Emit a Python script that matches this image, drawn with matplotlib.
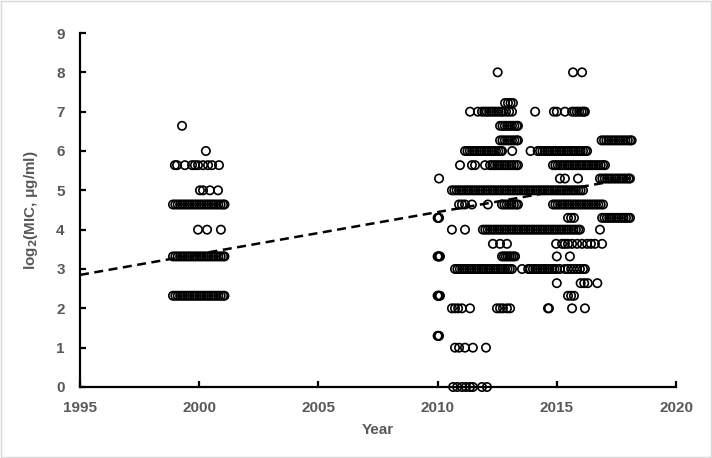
import matplotlib
matplotlib.use('Agg')
import matplotlib.pyplot as plt
from matplotlib.patches import Rectangle

# MIC values, one list of sample years per log2(MIC) level
yr_0 = [2010.65, 2010.82, 2011.02, 2011.19, 2011.36, 2011.48, 2011.86, 2012.07]
yr_1 = [2010.73, 2010.9, 2011.15, 2011.48, 2012.03]
yr_1_3 = [2010.0, 2010.03, 2010.06]
yr_2 = [2010.6, 2010.73, 2010.86, 2011.02, 2011.36, 2012.49, 2012.62, 2012.74,
        2012.91, 2013.04, 2014.63, 2014.67, 2015.64, 2016.18]
yr_2_32 = [1998.9, 1999.0, 1999.1, 1999.2, 1999.3, 1999.4, 1999.5, 1999.6, 1999.7,
           1999.8, 1999.9, 2000.0, 2000.1, 2000.2, 2000.3, 2000.4, 2000.5, 2000.6,
           2000.7, 2000.8, 2000.9, 2001.0, 2001.06,
           2010.0, 2010.03, 2010.06, 2010.1, 2015.47, 2015.6, 2015.72]
yr_2_64 = [2015.0, 2016.0, 2016.15, 2016.3, 2016.7]
yr_3 = [2010.73, 2010.83, 2010.93, 2011.03, 2011.13, 2011.23, 2011.33, 2011.43,
        2011.53, 2011.63, 2011.73, 2011.83, 2011.93, 2012.03, 2012.13, 2012.23,
        2012.33, 2012.43, 2012.53, 2012.63, 2012.73, 2012.83, 2012.93, 2013.03,
        2013.12, 2013.54, 2013.8, 2013.9, 2014.0, 2014.1, 2014.2, 2014.3, 2014.4,
        2014.5, 2014.6, 2014.7, 2014.8, 2014.9, 2015.0, 2015.13, 2015.34, 2015.47,
        2015.6, 2015.72, 2015.85, 2015.97, 2016.1, 2016.18]
yr_3_32 = [1998.9, 1999.0, 1999.1, 1999.2, 1999.3, 1999.4, 1999.5, 1999.6, 1999.7,
           1999.8, 1999.9, 2000.0, 2000.1, 2000.2, 2000.3, 2000.4, 2000.5, 2000.6,
           2000.7, 2000.8, 2000.9, 2001.0, 2001.06,
           2010.0, 2010.03, 2010.06, 2010.1, 2012.7, 2012.78, 2012.86, 2012.94,
           2013.02, 2013.1, 2013.18, 2013.25, 2015.0, 2015.55]
yr_3_64 = [2012.32, 2012.62, 2012.91, 2014.97, 2015.22, 2015.34, 2015.47, 2015.64,
           2015.85, 2016.06, 2016.27, 2016.43, 2016.6, 2016.9]
yr_4 = [1999.95, 2000.33, 2000.91, 2010.6, 2011.15,
        2011.9, 2012.0, 2012.1, 2012.2, 2012.3, 2012.4, 2012.5, 2012.6, 2012.7,
        2012.8, 2012.9, 2013.0, 2013.1, 2013.2, 2013.3, 2013.4, 2013.5, 2013.6,
        2013.7, 2013.8, 2013.9, 2014.0, 2014.1, 2014.2, 2014.3, 2014.4, 2014.5,
        2014.6, 2014.7, 2014.8, 2014.9, 2015.0, 2015.1, 2015.2, 2015.3, 2015.4,
        2015.5, 2015.6, 2015.7, 2015.8, 2015.9, 2015.97, 2016.81]
yr_4_3 = [2010.0, 2010.03, 2010.06, 2015.47, 2015.6, 2015.72, 2016.9, 2017.0,
          2017.1, 2017.2, 2017.3, 2017.4, 2017.5, 2017.6, 2017.7, 2017.8, 2017.9,
          2018.0, 2018.07]
yr_4_64 = [1998.9, 1999.0, 1999.1, 1999.2, 1999.3, 1999.4, 1999.5, 1999.6, 1999.7,
           1999.8, 1999.9, 2000.0, 2000.1, 2000.2, 2000.3, 2000.4, 2000.5, 2000.6,
           2000.7, 2000.8, 2000.9, 2001.0, 2001.06,
           2010.9, 2011.02, 2011.15, 2011.44, 2012.11, 2012.7, 2012.8, 2012.9,
           2013.0, 2013.1, 2013.2, 2013.3, 2013.37, 2014.84, 2014.94, 2015.04,
           2015.14, 2015.24, 2015.34, 2015.44, 2015.54, 2015.64, 2015.74, 2015.84,
           2015.94, 2016.04, 2016.14, 2016.24, 2016.34, 2016.44, 2016.54, 2016.64,
           2016.74, 2016.84, 2016.94]
yr_5 = [2000.03, 2000.16, 2000.45, 2000.79,
        2010.6, 2010.7, 2010.8, 2010.9, 2011.0, 2011.1, 2011.2, 2011.3, 2011.4,
        2011.5, 2011.6, 2011.7, 2011.8, 2011.9, 2012.0, 2012.1, 2012.2, 2012.3,
        2012.4, 2012.5, 2012.6, 2012.7, 2012.8, 2012.9, 2013.0, 2013.1, 2013.2,
        2013.3, 2013.4, 2013.5, 2013.6, 2013.7, 2013.8, 2013.9, 2014.0, 2014.1,
        2014.2, 2014.3, 2014.4, 2014.5, 2014.6, 2014.7, 2014.8, 2014.9, 2015.0,
        2015.1, 2015.2, 2015.3, 2015.4, 2015.5, 2015.6, 2015.7, 2015.8, 2015.9,
        2016.0, 2016.1]
yr_5_3 = [2010.06, 2015.13, 2015.34, 2015.89, 2016.81, 2016.91, 2017.01, 2017.11,
          2017.21, 2017.31, 2017.41, 2017.51, 2017.61, 2017.71, 2017.81, 2017.91,
          2018.01, 2018.07]
yr_5_64 = [1998.98, 1999.07, 1999.4, 1999.7, 1999.82, 1999.95, 2000.16, 2000.37,
           2000.54, 2000.83,
           2010.94, 2011.44, 2011.57, 2011.99, 2012.2, 2012.3, 2012.4, 2012.5,
           2012.6, 2012.7, 2012.8, 2012.9, 2013.0, 2013.1, 2013.2, 2013.3, 2013.37,
           2014.84, 2014.94, 2015.04, 2015.14, 2015.24, 2015.34, 2015.44, 2015.54,
           2015.64, 2015.74, 2015.84, 2015.94, 2016.04, 2016.14, 2016.24, 2016.34,
           2016.44, 2016.54, 2016.64, 2016.74, 2016.84, 2016.94, 2017.02]
yr_6 = [2000.28,
        2011.15, 2011.25, 2011.35, 2011.45, 2011.55, 2011.65, 2011.75, 2011.85,
        2011.95, 2012.05, 2012.15, 2012.25, 2012.35, 2012.45, 2012.55, 2012.65,
        2012.7, 2013.13, 2013.9,
        2014.2, 2014.3, 2014.4, 2014.5, 2014.6, 2014.7, 2014.8, 2014.9, 2015.0,
        2015.1, 2015.2, 2015.3, 2015.4, 2015.5, 2015.6, 2015.7, 2015.8, 2015.9,
        2016.0, 2016.1, 2016.2, 2016.27]
yr_6_27 = [2012.62, 2012.72, 2012.82, 2012.92, 2013.02, 2013.12, 2013.22, 2013.32,
           2013.37, 2016.88, 2016.98, 2017.08, 2017.18, 2017.28, 2017.38, 2017.48,
           2017.58, 2017.68, 2017.78, 2017.88, 2017.98, 2018.08, 2018.14]
yr_6_64 = [1999.28, 2012.62, 2012.72, 2012.82, 2012.92, 2013.02, 2013.12, 2013.22,
           2013.32, 2013.37]
yr_7 = [2011.36, 2011.69, 2011.86, 2011.96, 2012.06, 2012.16, 2012.26, 2012.36,
        2012.46, 2012.56, 2012.66, 2012.74, 2012.87, 2013.0, 2013.12, 2014.09,
        2014.88, 2015.0, 2015.34, 2015.64, 2015.74, 2015.84, 2015.94, 2016.04,
        2016.12, 2016.18]
yr_7_22 = [2012.83, 2012.95, 2013.06, 2013.16]
yr_8 = [2012.52, 2015.68, 2016.06]

levels = [0, 1, 1.3, 2, 2.32, 2.64, 3, 3.32, 3.64, 4, 4.3, 4.64, 5, 5.3, 5.64,
          6, 6.27, 6.64, 7, 7.22, 8]
years_by_level = [yr_0, yr_1, yr_1_3, yr_2, yr_2_32, yr_2_64, yr_3, yr_3_32,
                  yr_3_64, yr_4, yr_4_3, yr_4_64, yr_5, yr_5_3, yr_5_64, yr_6,
                  yr_6_27, yr_6_64, yr_7, yr_7_22, yr_8]

# linear trend line (start / end)
trend_x = [1995, 2018.1]
trend_y = [2.85, 5.31]

grey = '#595959'
plt.rcParams['font.family'] = ['Liberation Sans', 'DejaVu Sans']

fig = plt.figure(figsize=(7.12, 4.58), dpi=100)
ax = fig.add_axes([80 / 712, 71 / 458, 596 / 712, 354 / 458])

xs = []
ys = []
for lv, yrs in zip(levels, years_by_level):
    xs += yrs
    ys += [lv] * len(yrs)

ax.scatter(xs, ys, s=36, facecolors='none', edgecolors='black', linewidths=1.2,
           clip_on=False, zorder=3)
ax.plot(trend_x, trend_y, color='black', lw=1.8, dashes=(3.6, 2.2), zorder=4)

ax.set_xlim(1995, 2020)
ax.set_ylim(0, 9)
ax.set_xticks(range(1995, 2021, 5))
ax.set_yticks(range(0, 10))

for side in ['top', 'right']:
    ax.spines[side].set_visible(False)
for side in ['left', 'bottom']:
    ax.spines[side].set_linewidth(1.6)
ax.tick_params(axis='both', direction='in', length=4, width=1.6, colors='black',
               labelcolor=grey, labelsize=11)
ax.tick_params(axis='x', pad=10)
ax.tick_params(axis='y', pad=11)
for lbl in ax.get_xticklabels() + ax.get_yticklabels():
    lbl.set_fontweight('bold')

ax.set_xlabel('Year', fontsize=11, fontweight='bold', color=grey, labelpad=6)
ax.set_ylabel(r'log$_\mathbf{2}$(MIC, μg/ml)', fontsize=11, fontweight='bold',
              color=grey, labelpad=12)

# light chart-area border
fig.patches.append(Rectangle((0.002, 0.002), 0.996, 0.995, transform=fig.transFigure,
                             fill=False, edgecolor='#d9d9d9', lw=1))

fig.savefig('out.png', dpi=100)
